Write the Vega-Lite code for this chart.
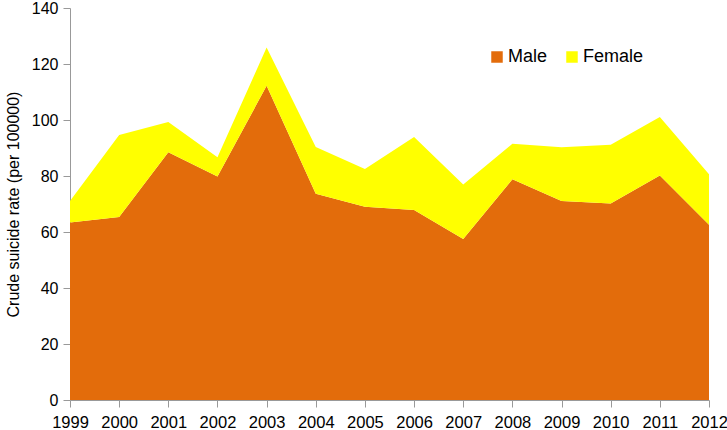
{
  "$schema": "https://vega.github.io/schema/vega-lite/v6.json",
  "width": 639,
  "height": 392,
  "autosize": {"type": "none"},
  "padding": {"left": 70, "top": 8, "right": 18, "bottom": 30},
  "background": "white",
  "config": {
    "view": {"stroke": null},
    "font": "Liberation Sans"
  },
  "data": {
    "values": [
      {"year": 1999, "sex": "Male", "rate": 63.4},
      {"year": 2000, "sex": "Male", "rate": 65.4},
      {"year": 2001, "sex": "Male", "rate": 88.5},
      {"year": 2002, "sex": "Male", "rate": 79.8},
      {"year": 2003, "sex": "Male", "rate": 112.2},
      {"year": 2004, "sex": "Male", "rate": 73.7},
      {"year": 2005, "sex": "Male", "rate": 69.0},
      {"year": 2006, "sex": "Male", "rate": 67.9},
      {"year": 2007, "sex": "Male", "rate": 57.5},
      {"year": 2008, "sex": "Male", "rate": 78.8},
      {"year": 2009, "sex": "Male", "rate": 71.1},
      {"year": 2010, "sex": "Male", "rate": 70.2},
      {"year": 2011, "sex": "Male", "rate": 80.2},
      {"year": 2012, "sex": "Male", "rate": 62.6},
      {"year": 1999, "sex": "Female", "rate": 7.7},
      {"year": 2000, "sex": "Female", "rate": 29.2},
      {"year": 2001, "sex": "Female", "rate": 10.8},
      {"year": 2002, "sex": "Female", "rate": 6.9},
      {"year": 2003, "sex": "Female", "rate": 13.7},
      {"year": 2004, "sex": "Female", "rate": 16.7},
      {"year": 2005, "sex": "Female", "rate": 13.5},
      {"year": 2006, "sex": "Female", "rate": 26.0},
      {"year": 2007, "sex": "Female", "rate": 19.5},
      {"year": 2008, "sex": "Female", "rate": 12.7},
      {"year": 2009, "sex": "Female", "rate": 19.2},
      {"year": 2010, "sex": "Female", "rate": 21.0},
      {"year": 2011, "sex": "Female", "rate": 20.9},
      {"year": 2012, "sex": "Female", "rate": 18.0}
    ]
  },
  "mark": {"type": "area", "interpolate": "linear"},
  "encoding": {
    "x": {
      "field": "year",
      "type": "quantitative",
      "scale": {"domain": [1999, 2012], "nice": false, "zero": false},
      "axis": {
        "values": [1999, 2000, 2001, 2002, 2003, 2004, 2005, 2006, 2007, 2008, 2009, 2010, 2011, 2012],
        "format": "d",
        "title": null,
        "grid": false,
        "labelFlush": false,
        "labelOverlap": false,
        "labelFontSize": 16.5,
        "labelColor": "#000000",
        "labelPadding": 7,
        "domainColor": "#999999",
        "tickColor": "#999999",
        "tickSize": 7
      }
    },
    "y": {
      "field": "rate",
      "type": "quantitative",
      "stack": "zero",
      "scale": {"domain": [0, 140], "nice": false},
      "axis": {
        "values": [0, 20, 40, 60, 80, 100, 120, 140],
        "title": "Crude suicide rate (per 100000)",
        "titleFontSize": 16,
        "titleFontWeight": "normal",
        "titleColor": "#000000",
        "titlePadding": 10,
        "grid": false,
        "labelFontSize": 16,
        "labelColor": "#000000",
        "labelPadding": 5,
        "domainColor": "#999999",
        "tickColor": "#999999",
        "tickSize": 7
      }
    },
    "color": {
      "field": "sex",
      "type": "nominal",
      "scale": {"domain": ["Male", "Female"], "range": ["#E36C0B", "#FFFF00"]},
      "legend": {
        "title": null,
        "orient": "none",
        "legendX": 418,
        "legendY": 40,
        "direction": "horizontal",
        "symbolType": "square",
        "symbolSize": 132,
        "symbolStrokeWidth": 0,
        "symbolOpacity": 1,
        "labelFontSize": 18,
        "labelColor": "#000000",
        "labelOffset": 2,
        "columnPadding": 15,
        "padding": 0
      }
    },
    "order": {"field": "sex", "sort": "descending"}
  }
}
